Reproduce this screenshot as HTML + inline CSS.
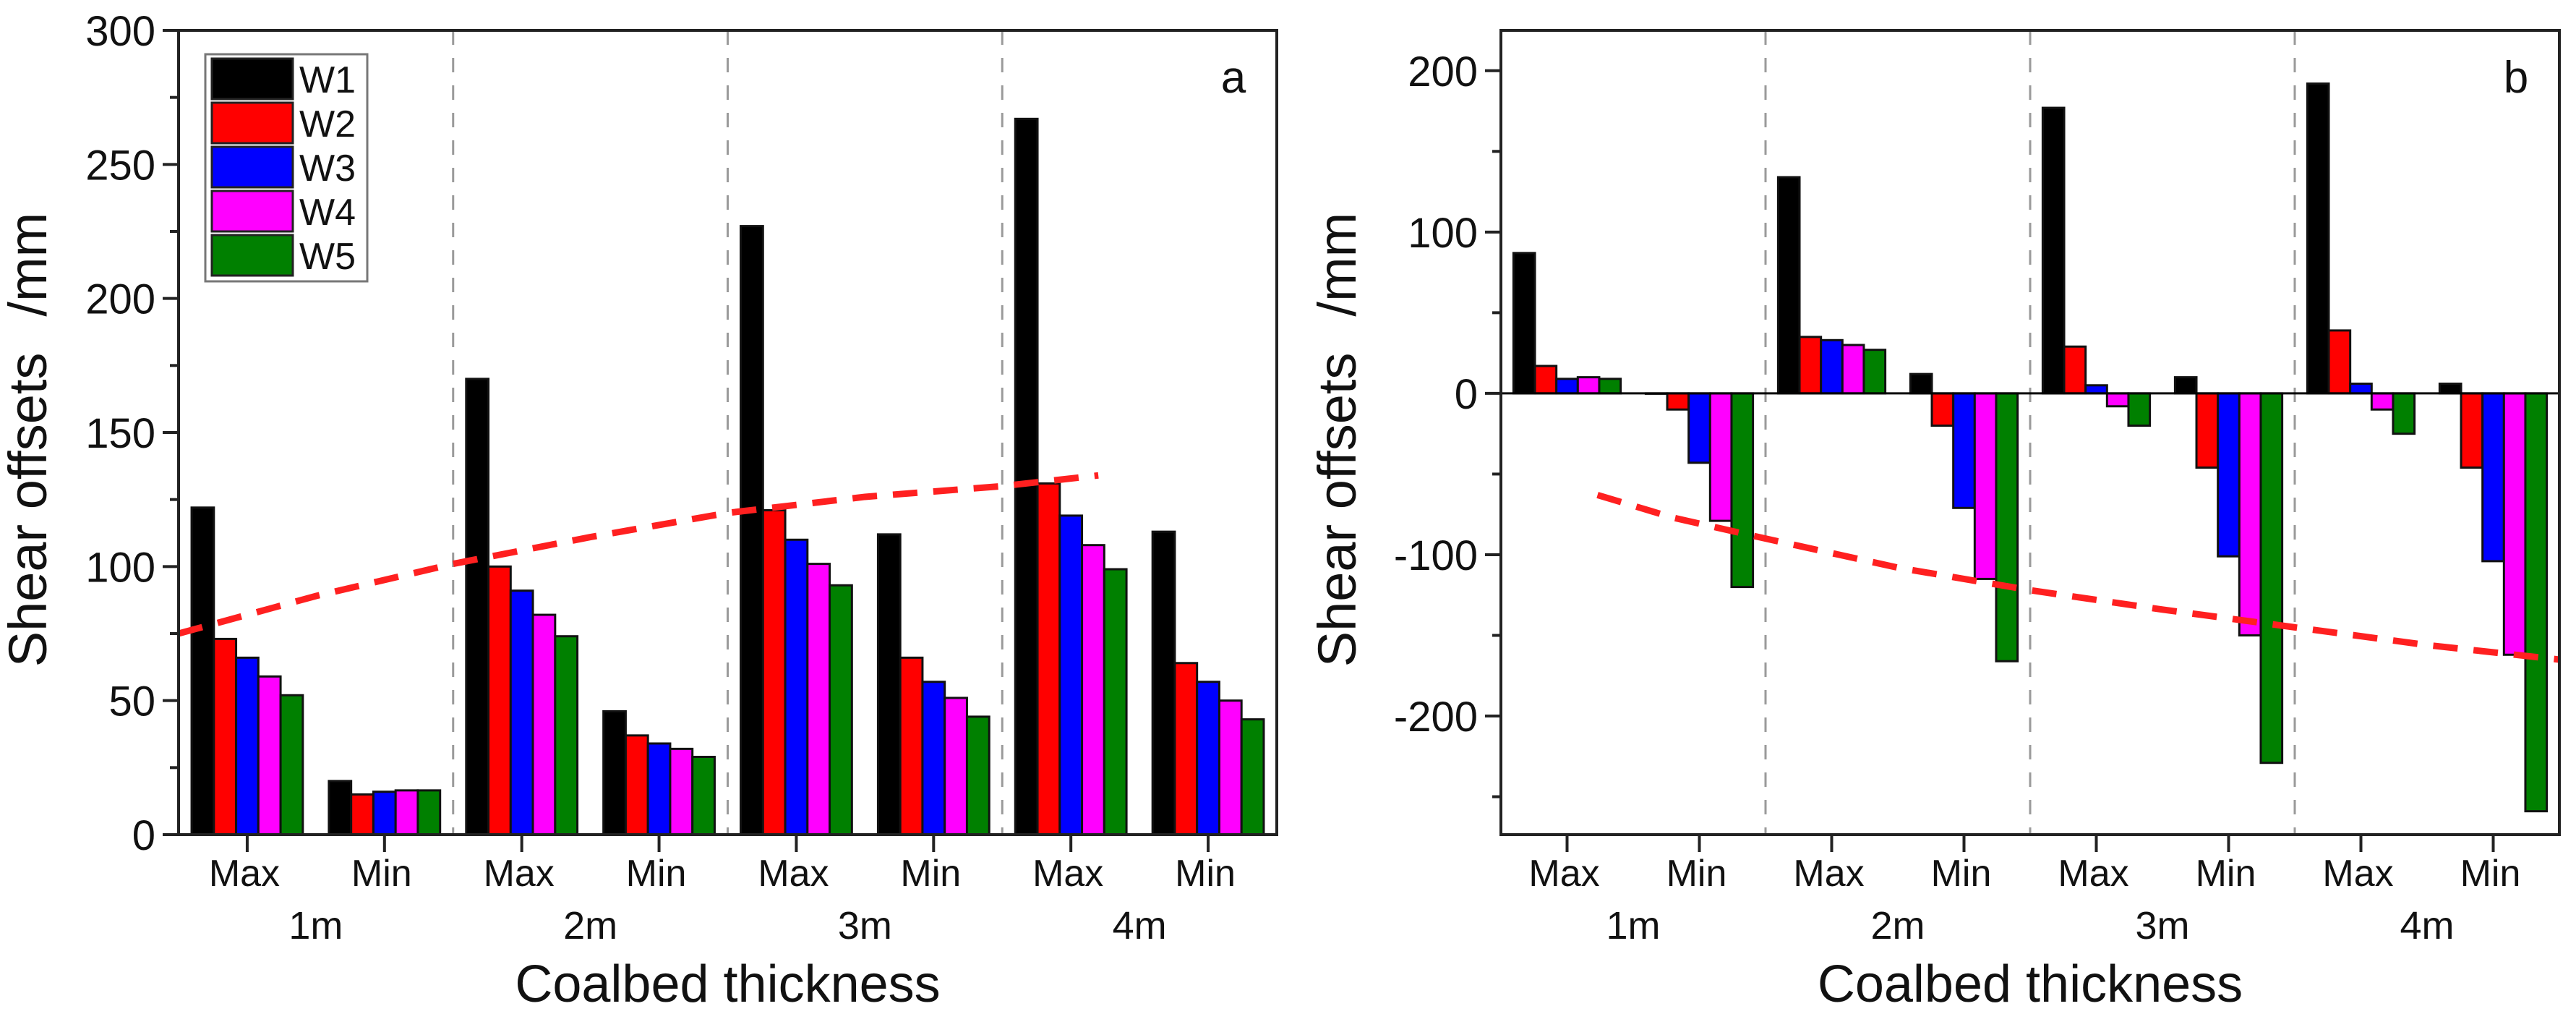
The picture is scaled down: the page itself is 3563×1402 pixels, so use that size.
<!DOCTYPE html>
<html><head><meta charset="utf-8"><style>
html,body{margin:0;padding:0;background:#fff;}
svg{display:block;font-family:"Liberation Sans",Arial,sans-serif;}
</style></head><body>
<svg id="fig" width="3563" height="1402" viewBox="0 0 3563 1402"></svg>
<script>
const categories = ["Max","Min","Max","Min","Max","Min","Max","Min"];
const groups = ["1m","2m","3m","4m"];
const seriesNames = ["W1","W2","W3","W4","W5"];
const colors = ["#000000","#ff0000","#0000ff","#ff00ff","#008000"];
// panel a values, per series across 8 categories
const aW1 = [122,20,170,46,227,112,267,113];
const aW2 = [73,15,100,37,121,66,131,64];
const aW3 = [66,16,91,34,110,57,119,57];
const aW4 = [59,16.5,82,32,101,51,108,50];
const aW5 = [52,16.5,74,29,93,44,99,43];
const aTrendX = [-0.5,0.5,1.5,2.5,3.5,4.5,5.5,6.2];
const aTrendY = [75,89,101,111,120,126,130,134];
const aTicks = [0,50,100,150,200,250,300];
// panel b values
const bW1 = [87,0,134,12,177,10,192,6];
const bW2 = [17,-10,35,-20,29,-46,39,-46];
const bW3 = [9,-43,33,-71,5,-101,6,-104];
const bW4 = [10,-79,30,-115,-8,-150,-10,-162];
const bW5 = [9,-120,27,-166,-20,-229,-25,-259];
const bTrendX = [0.23,0.8,1.5,2.5,3.5,4.5,5.5,6.5,7.5];
const bTrendY = [-63,-77,-90,-108,-122,-134,-145,-156,-165];
const bTicks = [-200,-100,0,100,200];

const NS="http://www.w3.org/2000/svg";
const svg=document.getElementById('fig');
function mk(tag,attrs,parent){const e=document.createElementNS(NS,tag);for(const k in attrs)e.setAttribute(k,attrs[k]);(parent||svg).appendChild(e);return e;}

function panel(p){
  const g=mk('g',{});
  
  
  const L=p.left,R=p.right,T=42,B=1154;
  const slot=(R-L)/8;
  const xc=i=>L+(i+0.5)*slot;
  const y=v=>B-(v-p.ymin)/(p.ymax-p.ymin)*(B-T);
  [2,4,6].forEach(k=>{const d=mk('line',{x1:L+k*slot,x2:L+k*slot,y1:T,y2:B,stroke:'#9a9a9a','stroke-width':3,'stroke-dasharray':'20,18'},g);
    });
  const bw=slot*0.81/5;
  p.series.forEach((arr,s)=>{arr.forEach((v,i)=>{
    const x0=xc(i)-slot*0.405+s*bw;
    const y0=y(Math.max(v,0)),y1=y(Math.min(v,0));
    const r=mk('rect',{x:x0,y:y0,width:bw,height:Math.max(y1-y0,0.5),fill:colors[s],stroke:'#111','stroke-width':3},g);
    
    
  });});
  if(p.ymin<0){const z=mk('line',{x1:L,x2:R,y1:y(0),y2:y(0),stroke:'#000','stroke-width':3},g);
    }
  const pts=p.tx.map((t,i)=>(L+(t+0.5)*slot)+','+y(p.ty[i])).join(' ');
  const tr=mk('polyline',{points:pts,fill:'none',stroke:'#ff2020','stroke-width':9,'stroke-dasharray':'34,22'},g);
  
  const f=mk('rect',{x:L,y:T,width:R-L,height:B-T,fill:'none',stroke:'#222','stroke-width':4},g);
  
  p.ticks.forEach(v=>{
    mk('line',{x1:L-22,x2:L,y1:y(v),y2:y(v),stroke:'#222','stroke-width':4},g);
    const t=mk('text',{x:L-32,y:y(v)+21,'text-anchor':'end','font-size':58,fill:'#111'},g);
    t.textContent=v;
    
  });
  for(let i=0;i<p.ticks.length-1;i++){const m=(p.ticks[i]+p.ticks[i+1])/2;mk('line',{x1:L-12,x2:L,y1:y(m),y2:y(m),stroke:'#222','stroke-width':4},g);}
  if(p.ymin<p.ticks[0]){const m=p.ticks[0]-(p.ticks[1]-p.ticks[0])/2;if(m>p.ymin)mk('line',{x1:L-12,x2:L,y1:y(m),y2:y(m),stroke:'#222','stroke-width':4},g);}
  categories.forEach((c,i)=>{
    mk('line',{x1:xc(i),x2:xc(i),y1:B,y2:B+24,stroke:'#222','stroke-width':4},g);
    const t=mk('text',{x:xc(i)-4,y:1225,'text-anchor':'middle','font-size':52,fill:'#111'},g);
    t.textContent=c;
  });
  groups.forEach((gname,k)=>{
    const t=mk('text',{x:L+(2*k+1)*slot,y:1298,'text-anchor':'middle','font-size':54,fill:'#111'},g);
    t.textContent=gname;
  });
  const xt=mk('text',{x:(L+R)/2,y:1385,'text-anchor':'middle','font-size':72,fill:'#111'},g);
  xt.textContent='Coalbed thickness';
  const yt=mk('text',{x:0,y:0,'text-anchor':'middle','font-size':74,fill:'#111',transform:`translate(${p.ytx},${(T+B)/2+10}) rotate(-90)`},g);
  
  const s1=mk('tspan',{},yt);s1.textContent='Shear offsets';
  const s2=mk('tspan',{dx:50},yt);s2.textContent='/mm';
  const pl=mk('text',{x:R-60,y:128,'text-anchor':'middle','font-size':62,fill:'#111'},g);
  pl.textContent=p.letter;
}
panel({name:'panel-a',left:247,right:1766,ymin:0,ymax:300,series:[aW1,aW2,aW3,aW4,aW5],tx:aTrendX,ty:aTrendY,ticks:aTicks,ytx:64,letter:'a'});
panel({name:'panel-b',left:2076,right:3540,ymin:-273.5,ymax:225,series:[bW1,bW2,bW3,bW4,bW5],tx:bTrendX,ty:bTrendY,ticks:bTicks,ytx:1875,letter:'b'});

const lg=mk('g',{});


mk('rect',{x:284,y:75,width:224,height:314,fill:'#fff',stroke:'#777','stroke-width':3},lg);
seriesNames.forEach((n,i)=>{
  const e=mk('g',{},lg);
  
  
  mk('rect',{x:293,y:81+i*61,width:112,height:56,fill:colors[i],stroke:'#222','stroke-width':3},e);
  const t=mk('text',{x:414,y:128+i*61,'font-size':52,fill:'#111'},e);
  t.textContent=n;
});
</script>
</body></html>
